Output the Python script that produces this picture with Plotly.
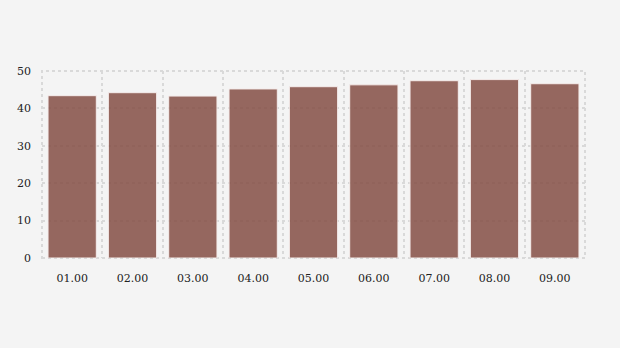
import plotly.graph_objects as go

categories = ["01.00", "02.00", "03.00", "04.00", "05.00", "06.00", "07.00", "08.00", "09.00"]
values = [43.4, 44.2, 43.3, 45.2, 45.8, 46.3, 47.4, 47.7, 46.6]
y_ticks = [0, 10, 20, 30, 40, 50]

grid_color = "#d9d9d9"
font_family = "DejaVu Serif"

fig = go.Figure(go.Bar(
    x=categories, y=values,
    marker=dict(color="rgb(134,80,71)", opacity=0.86,
                line=dict(color="#f6eceb", width=1)),
))

fig.update_layout(
    width=620, height=348,
    margin=dict(l=42, r=35, t=71, b=90),
    paper_bgcolor="#f4f4f4", plot_bgcolor="#f4f4f4",
    bargap=0.2,
    showlegend=False,
    font=dict(family=font_family, size=11, color="#222222"),
    xaxis2=dict(overlaying="x", type="linear", range=[-0.5, len(categories) - 0.5],
                tickvals=list(range(len(categories))), showticklabels=False,
                ticks="outside", ticklen=4, tickcolor="#dddddd", tickwidth=1,
                showgrid=False, zeroline=False, showline=False, anchor="y", side="bottom"),
    shapes=[dict(type="rect", xref="paper", yref="paper", x0=0, x1=1, y0=0, y1=1,
                 line=dict(color=grid_color, width=2, dash="dot"), layer="below")],
)
fig.layout.xaxis.update(
    type="category", range=[-0.5, len(categories) - 0.5],
    tickson="boundaries", showgrid=True, gridcolor=grid_color, griddash="dot", gridwidth=2,
    ticks="", showline=False, zeroline=False, ticklabelstandoff=12,
    tickfont=dict(family=font_family, size=11, color="#222222"),
)
fig.update_yaxes(
    range=[0, 50], tickvals=y_ticks,
    showgrid=True, gridcolor=grid_color, griddash="dot", gridwidth=2,
    zeroline=False, showline=False, ticks="", ticklabelstandoff=10,
    tickfont=dict(family=font_family, size=11, color="#222222"),
)
fig.write_html("out.html")
